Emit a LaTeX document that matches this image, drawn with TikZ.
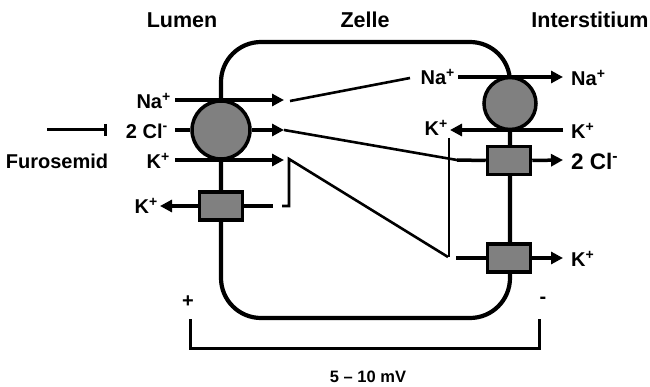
\documentclass[tikz,border=0pt]{standalone}
\usepackage{fontspec}
\setmainfont{Liberation Sans}
\usetikzlibrary{arrows.meta}
\definecolor{carriergray}{HTML}{808080}
\tikzset{
  headlabel/.style={font=\fontsize{21.5}{24}\selectfont\bfseries, inner sep=0pt},
  ionlabel/.style={font=\fontsize{20}{22}\selectfont\bfseries, inner sep=0pt},
  biglabel/.style={font=\fontsize{22.5}{24}\selectfont\bfseries, inner sep=0pt},
  smalllabel/.style={font=\fontsize{16.5}{18}\selectfont\bfseries, inner sep=0pt},
  carrier/.style={circle, draw=black, line width=3.5pt, fill=carriergray, inner sep=0pt},
  channel/.style={rectangle, draw=black, line width=3.5pt, fill=carriergray,
    minimum width=43pt, minimum height=28pt, inner sep=0pt},
  flux/.style={-{Triangle[length=12pt,width=12pt]}, line width=3.5pt},
  stub/.style={line width=3.5pt},
  route/.style={line width=2.6pt},
  thinroute/.style={line width=1.5pt},
  membrane/.style={line width=4.2pt, rounded corners=40pt}
}
\begin{document}
\begin{tikzpicture}[x=1pt,y=-1pt]
  \useasboundingbox (0,0) rectangle (650,387);

  % Kopfzeile
  \node[headlabel] (lumen) at (182,20) {Lumen};
  \node[headlabel] (zelle) at (365,20) {Zelle};
  \node[headlabel] (interstitium) at (590,20) {Interstitium};

  % Zelle
  \draw[membrane] (221,42) rectangle (510,318);

  % Hilfspunkte
  \coordinate (naA) at (175,100);  \coordinate (naB) at (284,100);
  \coordinate (clA) at (175,130);  \coordinate (clB) at (284,130);
  \coordinate (kA) at (175,160);   \coordinate (kB) at (284,160);
  \coordinate (kTip) at (160,206); \coordinate (kStub) at (273,206);
  \coordinate (r1) at (282,206);   \coordinate (r2) at (289,206);
  \coordinate (r3) at (289,159);   \coordinate (r4) at (448,257);
  \coordinate (t1) at (449,138);   \coordinate (t2) at (449,257);
  \coordinate (np1) at (290,101);  \coordinate (np2) at (410,78);
  \coordinate (naC) at (458,77);   \coordinate (naD) at (563,77);
  \coordinate (kC) at (563,130);   \coordinate (kD) at (450,130);
  \coordinate (cp2) at (457,160);  \coordinate (clD) at (563,160);
  \coordinate (kclIn) at (456,258);\coordinate (kclOut) at (563,258);
  \coordinate (furoA) at (47,130); \coordinate (furoB) at (107,130);
  \coordinate (b1) at (190,319);   \coordinate (b2) at (190,348);
  \coordinate (b3) at (539,348);   \coordinate (b4) at (539,319);

  % Transporter
  \node[carrier, minimum size=58pt] (nkcc) at (221,130) {};
  \node[channel] (romk) at (221,206) {};
  \node[carrier, minimum size=52pt] (nak) at (510,103.5) {};
  \node[channel] (clc) at (509,160.5) {};
  \node[channel] (kcl) at (509,258) {};

  % Beschriftungen
  \node[ionlabel, anchor=east] (naL) at (171,101) {Na\textsuperscript{+}};
  \node[ionlabel, anchor=east] (clL) at (168,131) {2 Cl\textsuperscript{-}};
  \node[ionlabel, anchor=east] (kL) at (170,161) {K\textsuperscript{+}};
  \node[ionlabel, anchor=east] (kLout) at (158,206) {K\textsuperscript{+}};
  \node[ionlabel] (furosemid) at (57,161) {Furosemid};
  \node[ionlabel, anchor=east] (naM) at (455,77) {Na\textsuperscript{+}};
  \node[ionlabel, anchor=east] (kM) at (448,128) {K\textsuperscript{+}};
  \node[ionlabel, anchor=west] (naR) at (571,78) {Na\textsuperscript{+}};
  \node[ionlabel, anchor=west] (kR) at (571,131) {K\textsuperscript{+}};
  \node[biglabel, anchor=west] (clR) at (571,161) {2 Cl\textsuperscript{-}};
  \node[ionlabel, anchor=west] (kR2) at (571,259) {K\textsuperscript{+}};
  \node[ionlabel] (plus) at (188,302) {+};
  \node[ionlabel] (minus) at (543,300) {-};
  \node[smalllabel] (volt) at (368,377) {5 -- 10 mV};

  % Lumen
  \draw[flux] (naA) -- (naB);
  \draw[stub] (clA) -- (nkcc.west);
  \draw[flux] (nkcc.east) -- (clB);
  \draw[flux] (kA) -- (kB);
  \draw[flux] (romk.west) -- (kTip);
  \draw[stub] (romk.east) -- (kStub);
  \draw[-{Bar[width=12pt]}, line width=3pt] (furoA) -- (furoB);

  % Wege durch die Zelle
  \draw[route] (np1) -- (np2);
  \draw[route] (clB) -- (cp2);
  \draw[route] (r1) -- (r2) -- (r3) -- (r4);
  \draw[thinroute] (t1) -- (t2);

  % Interstitium
  \draw[flux] (naC) -- (naD);
  \draw[flux] (kC) -- (kD);
  \draw[stub] (cp2) -- (clc.west);
  \draw[flux] (clc.east) -- (clD);
  \draw[stub] (kclIn) -- (kcl.west);
  \draw[flux] (kcl.east) -- (kclOut);

  % Spannung
  \draw[line width=3pt] (b1) -- (b2) -- (b3) -- (b4);
\end{tikzpicture}
\end{document}
